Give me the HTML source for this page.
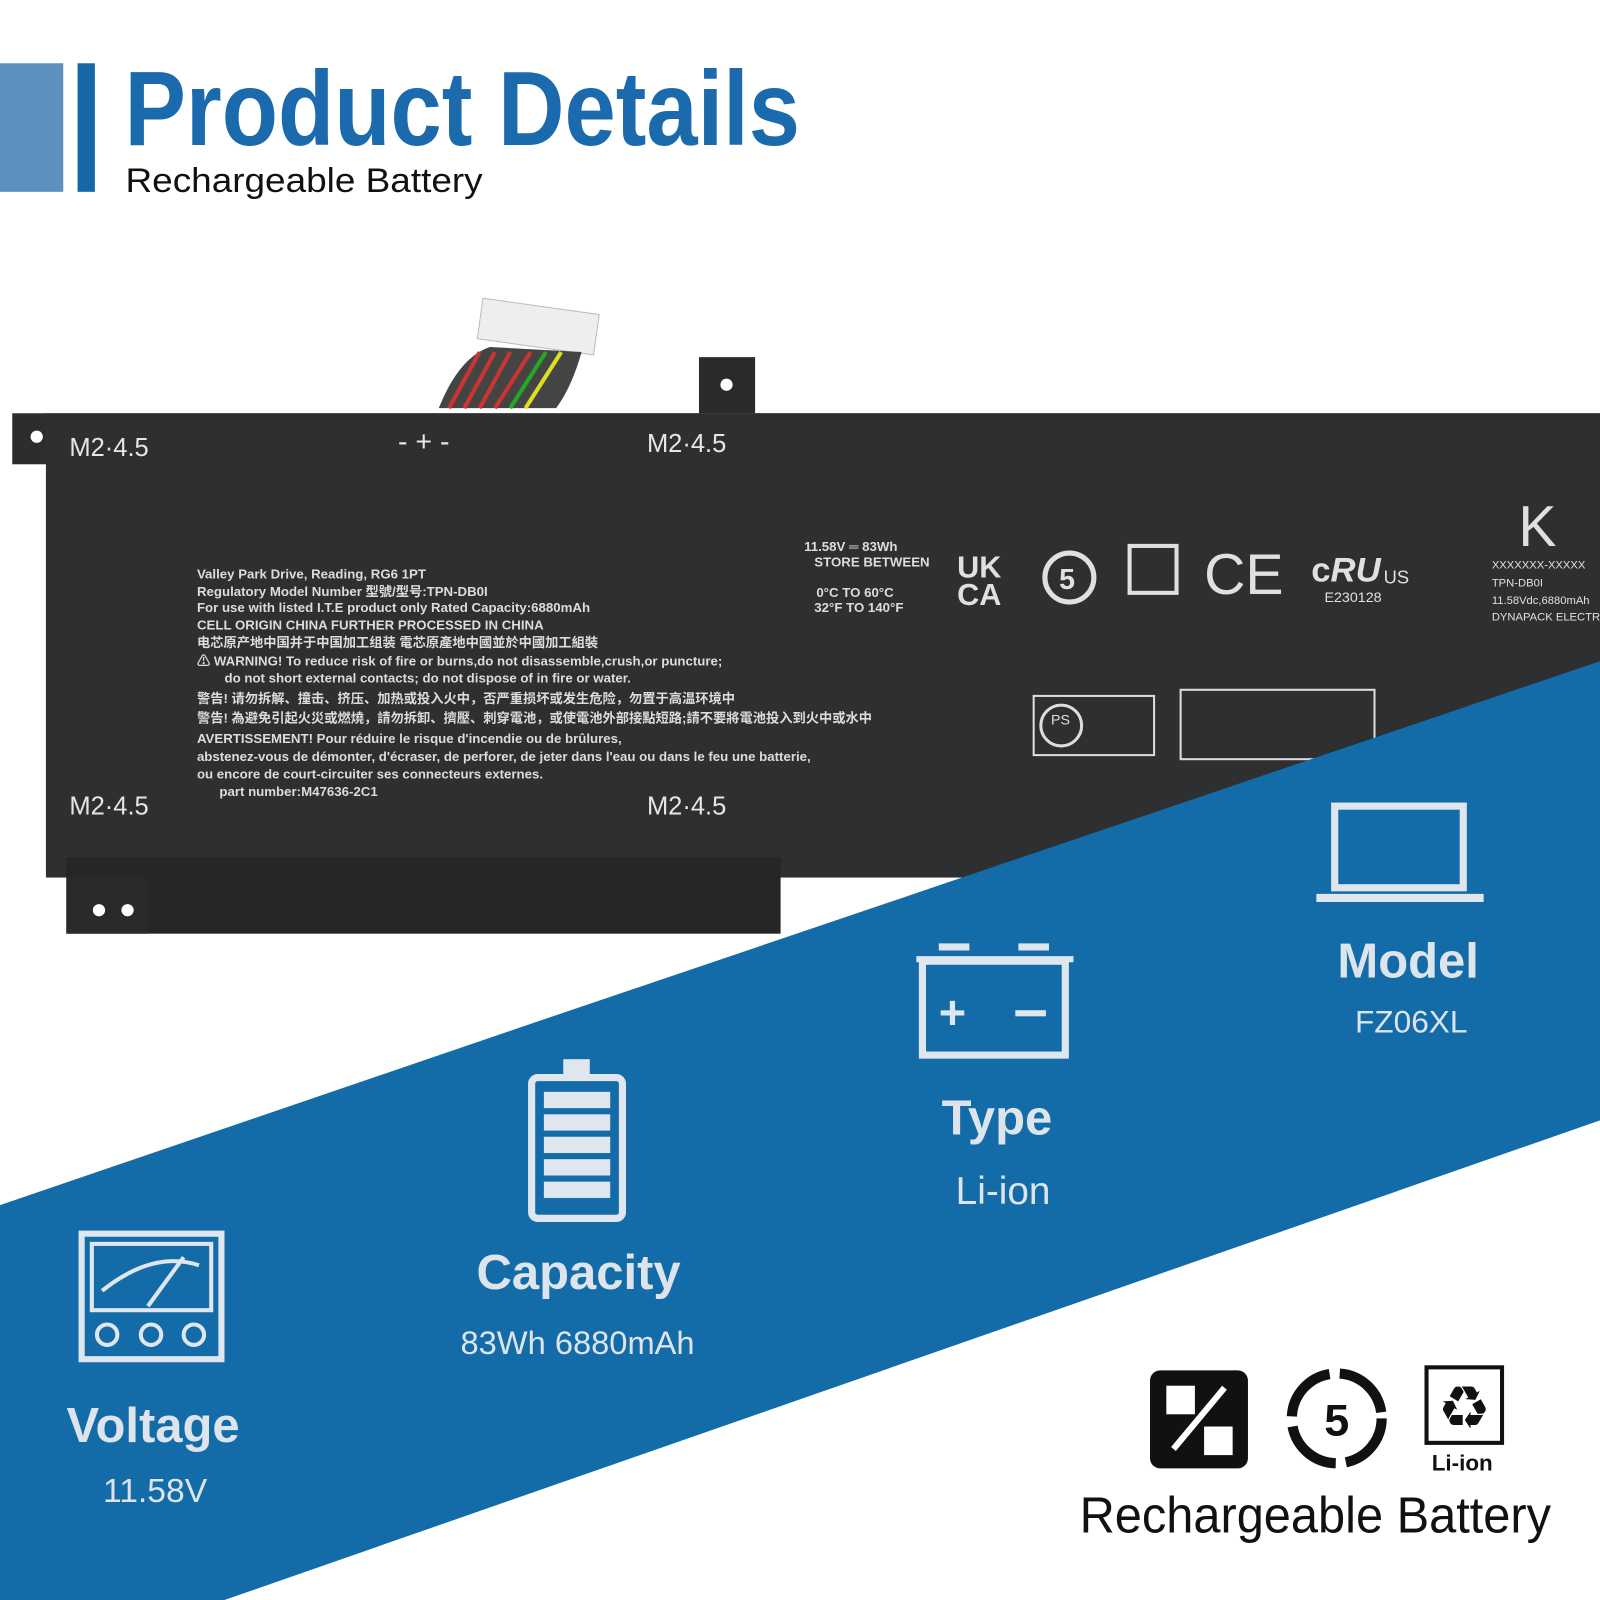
<!DOCTYPE html>
<html><head><meta charset="utf-8"><style>html,body{margin:0;padding:0;background:#fff;width:1600px;height:1600px;overflow:hidden}svg{display:block}</style></head>
<body>
<svg width="1600" height="1600" viewBox="0 0 1568 1568" xmlns="http://www.w3.org/2000/svg" font-family="Liberation Sans, Noto Sans CJK SC, sans-serif">
<rect width="1568" height="1568" fill="#fff"/>
<!-- header -->
<rect x="0" y="62" width="62" height="126" fill="#5d8fbf"/>
<rect x="76" y="62" width="17" height="126" fill="#1766a8"/>
<text x="122" y="142" font-family="Liberation Sans Narrow, Liberation Sans, sans-serif" font-weight="bold" font-size="104" fill="#1a6aad" textLength="662" lengthAdjust="spacingAndGlyphs">Product Details</text>
<text x="123" y="188" font-size="34" fill="#111" textLength="350" lengthAdjust="spacingAndGlyphs">Rechargeable Battery</text>
<!-- battery -->
<g>
<rect x="470" y="300" width="115" height="40" fill="#eee" stroke="#bbb" transform="rotate(8 527 320)"/>
<path d="M430 400 Q450 350 480 340 L570 345 Q560 380 545 400 Z" fill="#444"/>
<path d="M440 400 L470 345 M455 400 L485 345 M470 400 L500 345 M485 400 L520 345" stroke="#c33" stroke-width="4"/>
<path d="M500 400 L535 345" stroke="#2a2" stroke-width="4"/><path d="M515 400 L550 345" stroke="#dd2" stroke-width="4"/>
<rect x="685" y="350" width="55" height="55" fill="#2a2a2a"/>
<circle cx="712" cy="377" r="6" fill="#fff"/>
<rect x="12" y="405" width="1556" height="50" fill="#2d2d2d"/>
<rect x="45" y="405" width="1523" height="455" fill="#2e2f30"/>
<rect x="65" y="840" width="700" height="75" fill="#262626"/>
<rect x="65" y="860" width="80" height="55" fill="#2a2a2a"/>
<circle cx="36" cy="428" r="6" fill="#fff"/>
<circle cx="97" cy="892" r="6" fill="#fff"/><circle cx="125" cy="892" r="6" fill="#fff"/>
</g>
<g fill="#e6e6e6" font-size="25">
<text x="68" y="447">M2·4.5</text><text x="634" y="443">M2·4.5</text>
<text x="68" y="798">M2·4.5</text><text x="634" y="798">M2·4.5</text>
<text x="390" y="442" font-size="28">-  +  -</text>
</g>
<g fill="#dcdcdc" font-size="13" font-weight="bold">
<text x="193" y="567">Valley Park Drive, Reading, RG6 1PT</text>
<text x="193" y="584">Regulatory Model Number 型號/型号:TPN-DB0I</text>
<text x="193" y="600">For use with listed I.T.E product only   Rated Capacity:6880mAh</text>
<text x="193" y="617">CELL ORIGIN CHINA FURTHER PROCESSED IN CHINA</text>
<text x="193" y="634">电芯原产地中国并于中国加工组装  電芯原產地中國並於中國加工組裝</text>
<text x="193" y="652">⚠ WARNING! To reduce risk of fire or burns,do not disassemble,crush,or puncture;</text>
<text x="220" y="669">do not short external contacts; do not dispose of in fire or water.</text>
<text x="193" y="689">警告! 请勿拆解、撞击、挤压、加热或投入火中，否严重损坏或发生危险，勿置于高温环境中</text>
<text x="193" y="708">警告! 為避免引起火災或燃燒，請勿拆卸、擠壓、刺穿電池，或使電池外部接點短路;請不要將電池投入到火中或水中</text>
<text x="193" y="728">AVERTISSEMENT! Pour réduire le risque d'incendie ou de brûlures,</text>
<text x="193" y="746">abstenez-vous de démonter, d'écraser, de perforer, de jeter dans l'eau ou dans le feu une batterie,</text>
<text x="193" y="763">ou encore de court-circuiter ses connecteurs externes.</text>
<text x="215" y="780">part number:M47636-2C1</text>
<text x="788" y="540">11.58V ═ 83Wh</text><text x="798" y="555">STORE BETWEEN</text>
<text x="800" y="585">0°C TO 60°C</text><text x="798" y="600">32°F TO 140°F</text>
</g>
<g fill="#e0e0e0">
<text x="938" y="566" font-size="30" font-weight="bold">UK</text><text x="938" y="593" font-size="30" font-weight="bold">CA</text>
<circle cx="1048" cy="566" r="24" fill="none" stroke="#e0e0e0" stroke-width="5"/><text x="1038" y="577" font-size="28" font-weight="bold">5</text>
<rect x="1107" y="535" width="46" height="46" fill="none" stroke="#e0e0e0" stroke-width="4"/>
<text x="1180" y="582" font-size="56">CE</text>
<text x="1285" y="570" font-size="34" font-weight="bold">c<tspan font-style="italic">RU</tspan></text><text x="1356" y="572" font-size="18">US</text>
<text x="1298" y="590" font-size="14">E230128</text>
<text x="1488" y="535" font-size="56">K</text>
<rect x="1013" y="682" width="118" height="58" fill="none" stroke="#ddd" stroke-width="2"/>
<circle cx="1040" cy="711" r="20" fill="none" stroke="#ddd" stroke-width="3"/><text x="1030" y="710" font-size="14">PS</text>
<rect x="1157" y="676" width="190" height="68" fill="none" stroke="#ddd" stroke-width="2"/>
<text x="1462" y="557" font-size="11">XXXXXXX-XXXXX</text><text x="1462" y="575" font-size="11">TPN-DB0I</text>
<text x="1462" y="592" font-size="11">11.58Vdc,6880mAh</text><text x="1462" y="608" font-size="11">DYNAPACK ELECTRO</text>
</g>
<!-- blue band -->
<polygon points="0,1181 530,1000 1568,648 1568,1098 220,1568 0,1568" fill="#136ca8"/>
<g fill="none" stroke="#dfe6ee" stroke-width="7">
<!-- laptop -->
<rect x="1308" y="790" width="126" height="80"/>
<line x1="1290" y1="880" x2="1454" y2="880" stroke-width="8"/>
<!-- car battery -->
<rect x="904" y="942" width="140" height="92"/>
<line x1="898" y1="940" x2="1052" y2="940" stroke-width="6"/>
<line x1="920" y1="928" x2="950" y2="928"/><line x1="998" y1="928" x2="1028" y2="928"/>
<!-- capacity battery -->
<rect x="521" y="1056" width="89" height="138" rx="6"/>
<rect x="552" y="1038" width="26" height="18" fill="#dfe6ee" stroke="none"/>
<!-- meter -->
<rect x="80" y="1209" width="137" height="123" stroke-width="6"/>
<rect x="90" y="1219" width="117" height="65" stroke-width="4"/>
<path d="M100 1265 Q150 1225 195 1240" stroke-width="4"/>
<line x1="145" y1="1280" x2="180" y2="1232" stroke-width="4"/>
<circle cx="105" cy="1308" r="10" stroke-width="4"/><circle cx="148" cy="1308" r="10" stroke-width="4"/><circle cx="190" cy="1308" r="10" stroke-width="4"/>
</g>
<g fill="#dfe6ee">
<rect x="533" y="1070" width="65" height="16"/><rect x="533" y="1092" width="65" height="16"/><rect x="533" y="1114" width="65" height="16"/><rect x="533" y="1136" width="65" height="16"/><rect x="533" y="1158" width="65" height="16"/>
<text x="920" y="1008" font-size="46" font-weight="bold">+</text><rect x="995" y="990" width="30" height="6"/>
</g>
<g fill="#dde4ec" text-anchor="middle">
<text x="1380" y="958" font-size="48" font-weight="bold">Model</text>
<text x="1383" y="1012" font-size="31">FZ06XL</text>
<text x="977" y="1112" font-size="48" font-weight="bold">Type</text>
<text x="983" y="1180" font-size="38">Li-ion</text>
<text x="567" y="1263" font-size="48" font-weight="bold">Capacity</text>
<text x="566" y="1327" font-size="32">83Wh 6880mAh</text>
<text x="150" y="1413" font-size="48" font-weight="bold">Voltage</text>
<text x="152" y="1472" font-size="33">11.58V</text>
</g>
<!-- bottom icons -->
<g fill="#111">
<rect x="1127" y="1343" width="96" height="96" rx="10"/>
<rect x="1143" y="1358" width="28" height="28" fill="#fff"/><rect x="1180" y="1398" width="28" height="28" fill="#fff"/>
<path d="M1150 1420 L1200 1360" stroke="#fff" stroke-width="6"/>
<circle cx="1310" cy="1390" r="44" fill="none" stroke="#111" stroke-width="10" stroke-dasharray="60 10"/>
<text x="1310" y="1407" font-size="44" font-weight="bold" text-anchor="middle">5</text>
<rect x="1398" y="1340" width="74" height="74" fill="none" stroke="#111" stroke-width="4"/>
<text x="1435" y="1395" font-size="44" text-anchor="middle">♻</text>
<text x="1433" y="1441" font-size="22" font-weight="bold" text-anchor="middle">Li-ion</text>
<text x="1058" y="1502" font-size="50" textLength="462" lengthAdjust="spacingAndGlyphs">Rechargeable Battery</text>
</g>
</svg>
</body></html>
